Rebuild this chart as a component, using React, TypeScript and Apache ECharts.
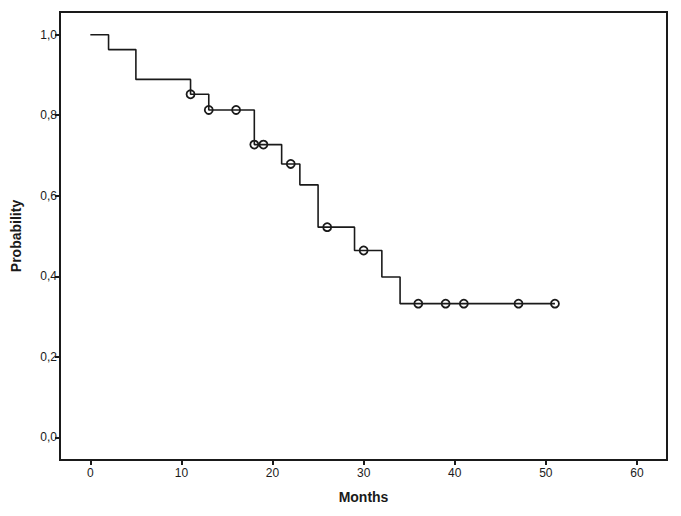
import React, { useEffect, useRef } from "react";
import * as echarts from "echarts";

// Kaplan-Meier step points (time in months, survival probability)
const eventTimes = [0, 2, 5, 11, 13, 18, 21, 23, 25, 29, 32, 34, 51];
const survival = [1.0, 0.963, 0.889, 0.852, 0.813, 0.727, 0.679, 0.627, 0.522, 0.464, 0.398, 0.332, 0.332];

// Censored observations
const censorTimes = [11, 13, 16, 18, 19, 22, 26, 30, 36, 39, 41, 47, 51];
const censorProb = [0.852, 0.813, 0.813, 0.727, 0.727, 0.679, 0.522, 0.464, 0.332, 0.332, 0.332, 0.332, 0.332];

const xTicks = [0, 10, 20, 30, 40, 50, 60];
const yTicks = [0, 0.2, 0.4, 0.6, 0.8, 1.0];

const FONT = "'Liberation Sans', Arial, sans-serif";
const INK = "#1a1a1a";

export default function App() {
  const ref = useRef<HTMLDivElement>(null);

  useEffect(() => {
    if (!ref.current) return;
    const chart = echarts.init(ref.current, null, { renderer: "svg" });
    chart.setOption({
      animation: false,
      backgroundColor: "#ffffff",
      grid: {
        left: 60,
        top: 12,
        right: 14,
        bottom: 56,
        show: true,
        borderColor: INK,
        borderWidth: 2,
        backgroundColor: "transparent",
      },
      xAxis: {
        type: "value",
        min: -3.33,
        max: 63.3,
        name: "Months",
        nameLocation: "middle",
        nameGap: 30,
        nameTextStyle: { fontFamily: FONT, fontSize: 14, fontWeight: "bold", color: INK },
        axisLine: { show: true, onZero: false, lineStyle: { color: INK, width: 2 } },
        axisTick: { show: true, customValues: xTicks, length: 5, lineStyle: { color: INK, width: 2 } },
        axisLabel: {
          customValues: xTicks,
          fontFamily: FONT,
          fontSize: 12,
          color: INK,
          margin: 7,
        },
        splitLine: { show: false },
      },
      yAxis: {
        type: "value",
        min: -0.0564,
        max: 1.0564,
        name: "Probability",
        nameLocation: "middle",
        nameGap: 37,
        nameRotate: 90,
        nameTextStyle: { fontFamily: FONT, fontSize: 14, fontWeight: "bold", color: INK },
        axisLine: { show: true, onZero: false, lineStyle: { color: INK, width: 2 } },
        axisTick: { show: true, customValues: yTicks, length: 5, lineStyle: { color: INK, width: 2 } },
        axisLabel: {
          customValues: yTicks,
          fontFamily: FONT,
          fontSize: 12,
          color: INK,
          margin: 3,
          formatter: (v: number) => v.toFixed(1).replace(".", ","),
        },
        splitLine: { show: false },
      },
      series: [
        {
          type: "line",
          step: "end",
          data: eventTimes.map((t, i) => [t, survival[i]]),
          showSymbol: false,
          symbol: "none",
          lineStyle: { color: INK, width: 1.6 },
          z: 2,
        },
        {
          type: "scatter",
          data: censorTimes.map((t, i) => [t, censorProb[i]]),
          symbol: "circle",
          symbolSize: 8,
          itemStyle: { color: "transparent", borderColor: INK, borderWidth: 1.8, opacity: 1 },
          z: 3,
        },
      ],
    });
    return () => chart.dispose();
  }, []);

  return (
    <div
      ref={ref}
      style={{ position: "absolute", left: 0, top: 0, width: 681, height: 516 }}
    />
  );
}
